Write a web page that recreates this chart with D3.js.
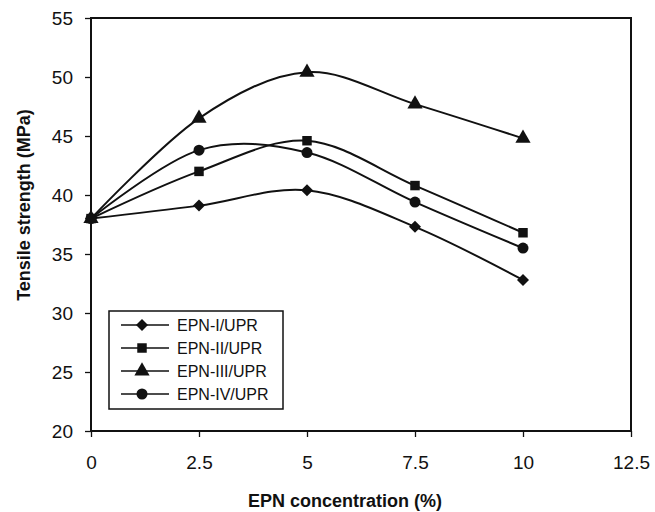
<!DOCTYPE html>
<html>
<head>
<meta charset="utf-8">
<script src="https://cdn.jsdelivr.net/npm/d3@7"></script>
<style>
  body { margin: 0; background: #fff; }
  svg { display: block; font-family: Arial, "Liberation Sans", sans-serif; }
</style>
</head>
<body>
<svg id="chart" width="655" height="512"></svg>
<script>
// EPN concentration (%)
var concentration = [0, 2.5, 5, 7.5, 10];

// tensile strength (MPa) per blend
var epn1 = [38.0, 39.1, 40.4, 37.3, 32.8];
var epn2 = [38.0, 42.0, 44.6, 40.8, 36.8];
var epn3 = [38.0, 46.5, 50.4, 47.7, 44.8];
var epn4 = [38.0, 43.8, 43.6, 39.4, 35.5];

var seriesNames = ['EPN-I/UPR', 'EPN-II/UPR', 'EPN-III/UPR', 'EPN-IV/UPR'];
var seriesSymbols = ['diamond', 'square', 'triangle', 'circle'];

var xTicks = [0, 2.5, 5, 7.5, 10, 12.5];
var yTicks = [20, 25, 30, 35, 40, 45, 50, 55];

(function() {
  var svg = d3.select('#chart'),
      plotL = 91, plotR = 631, plotT = 18, plotB = 431;

  var x = d3.scaleLinear().domain([0, 12.5]).range([plotL, plotR]);
  var y = d3.scaleLinear().domain([20, 55]).range([plotB, plotT]);

  var series = [epn1, epn2, epn3, epn4].map(function(vals, i) {
    return {
      name: seriesNames[i],
      symbol: seriesSymbols[i],
      points: vals.map(function(v, k) { return [concentration[k], v]; })
    };
  });

  // axes
  var xAxis = svg.append('g')
    .attr('transform', 'translate(0,' + plotB + ')')
    .call(d3.axisBottom(x).tickValues(xTicks).tickSize(6).tickSizeOuter(0)
      .tickFormat(function(d) { return d; }));
  var yAxis = svg.append('g')
    .attr('transform', 'translate(' + plotL + ',0)')
    .call(d3.axisLeft(y).tickValues(yTicks).tickSize(6).tickSizeOuter(0));

  [xAxis, yAxis].forEach(function(g) {
    g.select('.domain').remove();
    g.selectAll('line').attr('stroke', '#111').attr('stroke-width', 1.3);
    g.selectAll('text').attr('font-size', 19).attr('fill', '#111')
      .attr('font-family', 'Arial, "Liberation Sans", sans-serif');
  });
  xAxis.selectAll('text').attr('dy', '1.5em');
  yAxis.selectAll('text').attr('x', -18);

  // frame
  svg.append('rect')
    .attr('x', plotL).attr('y', plotT)
    .attr('width', plotR - plotL).attr('height', plotB - plotT)
    .attr('fill', 'none').attr('stroke', '#111').attr('stroke-width', 2);

  var symbolTypes = {
    diamond: d3.symbolSquare,
    square: d3.symbolSquare,
    triangle: d3.symbolTriangle,
    circle: d3.symbolCircle
  };
  var symbolSizes = { diamond: 72, square: 90, triangle: 100, circle: 95 };
  var symbolTurn = { diamond: 45, square: 0, triangle: 0, circle: 0 };

  function marker(type) {
    return d3.symbol().type(symbolTypes[type]).size(symbolSizes[type])();
  }

  var line = d3.line()
    .x(function(d) { return x(d[0]); })
    .y(function(d) { return y(d[1]); })
    .curve(d3.curveCardinal.tension(0));

  var groups = svg.selectAll('g.series')
    .data(series)
    .enter().append('g')
    .attr('class', 'series');

  groups.append('path')
    .attr('d', function(d) { return line(d.points); })
    .attr('fill', 'none')
    .attr('stroke', '#111')
    .attr('stroke-width', 2);

  groups.each(function(s) {
    d3.select(this).selectAll('path.pt')
      .data(s.points)
      .enter().append('path')
      .attr('class', 'pt')
      .attr('d', marker(s.symbol))
      .attr('transform', function(d) {
        return 'translate(' + x(d[0]) + ',' + y(d[1]) + ') rotate(' + symbolTurn[s.symbol] + ')';
      })
      .attr('fill', '#111');
  });

  // legend
  var legend = svg.append('g').attr('transform', 'translate(109,311)');
  legend.append('rect')
    .attr('width', 174).attr('height', 98)
    .attr('fill', '#fff').attr('stroke', '#111').attr('stroke-width', 1.5);

  var items = legend.selectAll('g.item')
    .data(series)
    .enter().append('g')
    .attr('class', 'item')
    .attr('transform', function(d, i) { return 'translate(0,' + (14 + i * 23) + ')'; });

  items.append('line')
    .attr('x1', 12).attr('x2', 60)
    .attr('stroke', '#111').attr('stroke-width', 1.5);
  items.append('path')
    .attr('d', function(d) { return marker(d.symbol); })
    .attr('transform', function(d) { return 'translate(33,0) rotate(' + symbolTurn[d.symbol] + ')'; })
    .attr('fill', '#111');
  items.append('text')
    .attr('x', 68).attr('dy', '0.36em')
    .attr('font-size', 16).attr('fill', '#111')
    .text(function(d) { return d.name; });

  // axis titles
  svg.append('text')
    .attr('x', 345).attr('y', 507)
    .attr('text-anchor', 'middle')
    .attr('font-size', 18).attr('font-weight', 'bold').attr('fill', '#111')
    .text('EPN concentration (%)');

  svg.append('text')
    .attr('transform', 'translate(30,' + 205 + ') rotate(-90)')
    .attr('text-anchor', 'middle')
    .attr('font-size', 18).attr('font-weight', 'bold').attr('fill', '#111')
    .text('Tensile strength (MPa)');
})();
</script>
</body>
</html>
